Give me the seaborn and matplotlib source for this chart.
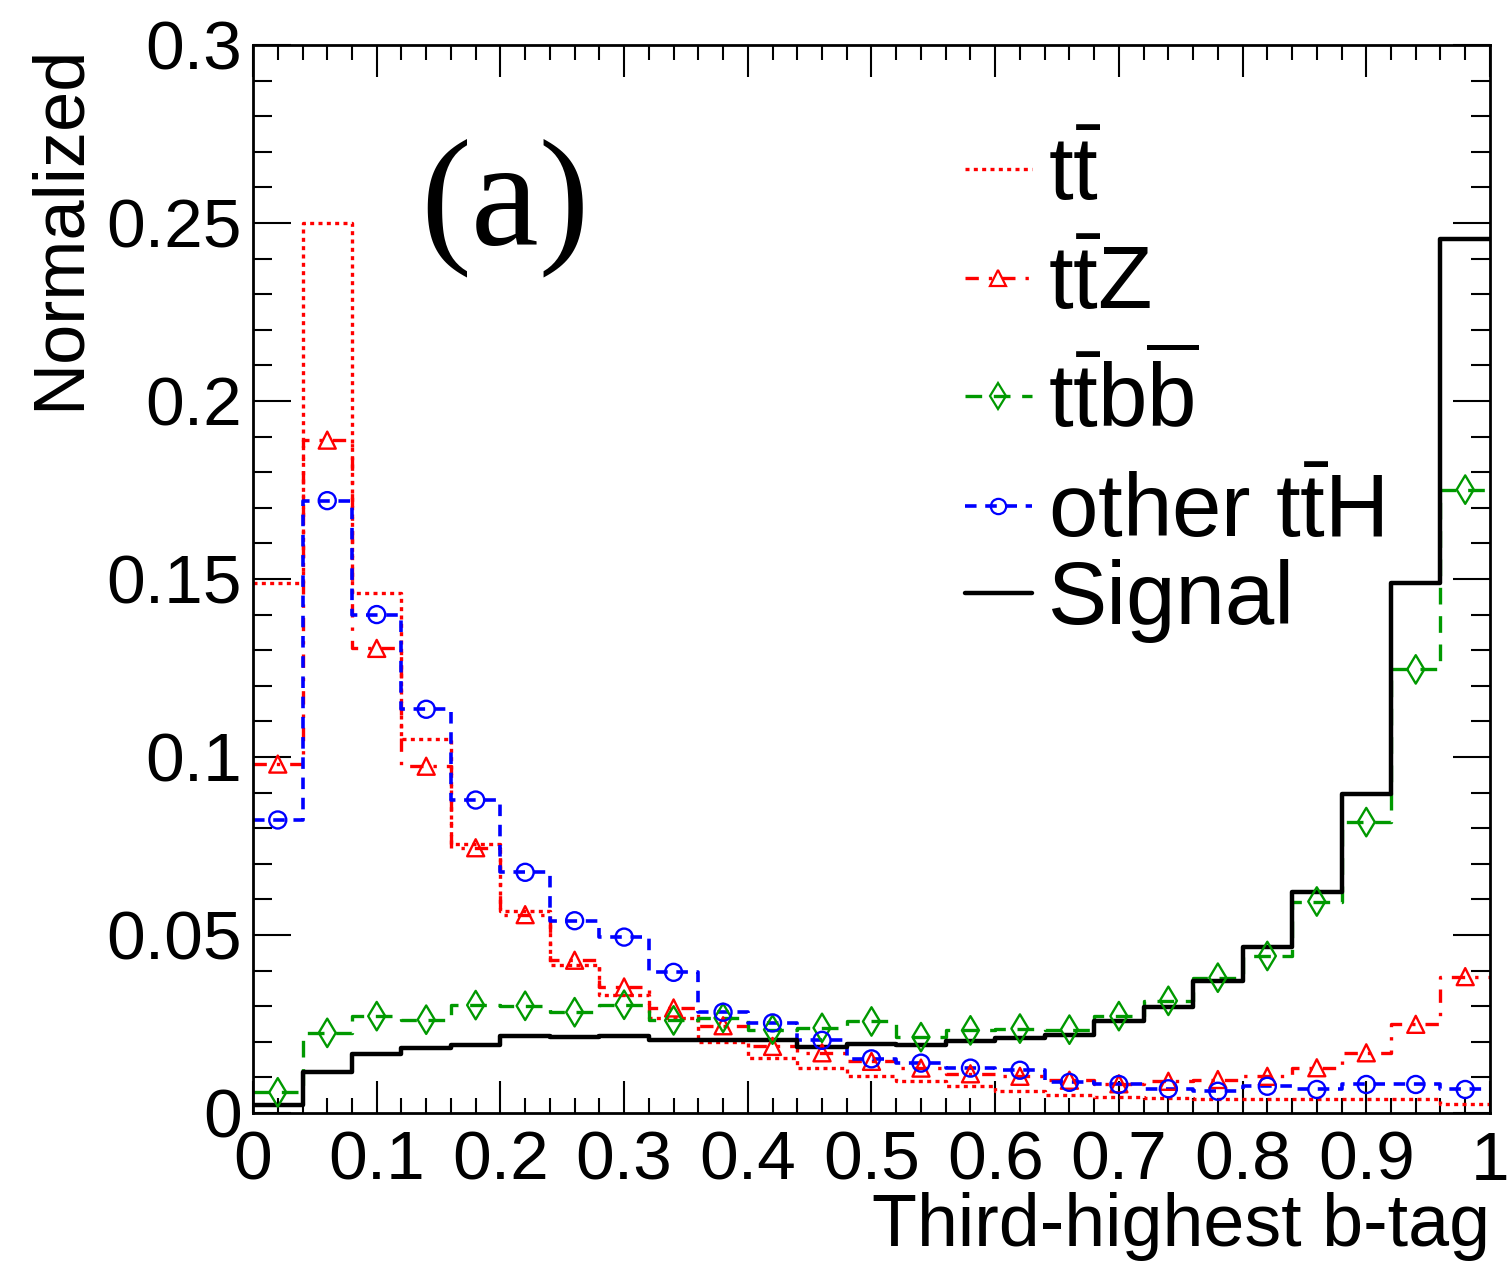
import numpy as np
import pandas as pd
import seaborn as sns
import matplotlib.pyplot as plt
from matplotlib.lines import Line2D
from matplotlib.ticker import MultipleLocator

# 25 bins of width 0.04 on [0, 1]
bin_edges = [round(i * 0.04, 2) for i in range(26)]
bin_centers = [round(i * 0.04 + 0.02, 2) for i in range(25)]

tt = [0.149, 0.250, 0.146, 0.105, 0.0755, 0.0566, 0.0417, 0.0332, 0.0267, 0.0199,
      0.0154, 0.0126, 0.0103, 0.0089, 0.0075, 0.0061, 0.0051, 0.0045, 0.0042, 0.0039,
      0.0039, 0.0039, 0.0039, 0.0039, 0.0026]
ttz = [0.098, 0.189, 0.1305, 0.0974, 0.0745, 0.0557, 0.0429, 0.0354, 0.0295, 0.0245,
       0.0187, 0.0169, 0.0145, 0.0126, 0.0110, 0.0103, 0.0092, 0.0082, 0.0089, 0.0094,
       0.0103, 0.0127, 0.0169, 0.0249, 0.0383]
ttbb = [0.0058, 0.0225, 0.0272, 0.0262, 0.0303, 0.0301, 0.0283, 0.0304, 0.0260, 0.0267,
        0.0234, 0.0239, 0.0257, 0.0213, 0.0232, 0.0237, 0.0234, 0.0272, 0.0315, 0.0380,
        0.0441, 0.0594, 0.0817, 0.1246, 0.1751]
other_tth = [0.0823, 0.172, 0.140, 0.1134, 0.0879, 0.0676, 0.0540, 0.0494, 0.0395, 0.0283,
             0.0253, 0.0204, 0.0152, 0.0140, 0.0126, 0.0120, 0.0086, 0.0080, 0.0068, 0.0061,
             0.0075, 0.0066, 0.0080, 0.0080, 0.0066]
signal = [0.0022, 0.0115, 0.0167, 0.0182, 0.0192, 0.0217, 0.0213, 0.0217, 0.0204, 0.0204,
          0.0206, 0.0185, 0.0194, 0.0192, 0.0201, 0.0211, 0.0220, 0.0258, 0.0299, 0.0371,
          0.0465, 0.0622, 0.0896, 0.1489, 0.2454]

sample_names = ["tt", "ttZ", "ttbb", "other ttH", "Signal"]
legend_labels = [r"$\mathrm{t\bar{t}}$", r"$\mathrm{t\bar{t}Z}$",
                 r"$\mathrm{t\bar{t}b\overline{b}}$", r"other $\mathrm{t\bar{t}}$H", "Signal"]
xtick_vals = [0, 0.1, 0.2, 0.3, 0.4, 0.5, 0.6, 0.7, 0.8, 0.9, 1.0]
xtick_labels = ["0", "0.1", "0.2", "0.3", "0.4", "0.5", "0.6", "0.7", "0.8", "0.9", "1"]
ytick_vals = [0, 0.05, 0.1, 0.15, 0.2, 0.25, 0.3]
ytick_labels = ["0", "0.05", "0.1", "0.15", "0.2", "0.25", "0.3"]

df = pd.DataFrame({
    "sample": np.repeat(sample_names, len(bin_centers)),
    "center": np.tile(bin_centers, len(sample_names)),
    "value": np.concatenate([tt, ttz, ttbb, other_tth, signal]),
})

styles = {
    "tt": dict(color="#ff0000", ls=(0, (1.2, 1.3)), lw=2.4, marker=None),
    "ttZ": dict(color="#ff0000", ls=(0, (4, 3, 1, 3)), lw=2.4, marker="^"),
    "ttbb": dict(color="#009900", ls=(0, (5, 3.5)), lw=2.4, marker="d"),
    "other ttH": dict(color="#0000ff", ls=(0, (3.2, 2.4)), lw=2.6, marker="o"),
    "Signal": dict(color="black", ls="-", lw=3.2, marker=None),
}
marker_sizes = {"^": 150, "d": 210, "o": 150}

sns.set_style("ticks")
plt.rcParams["font.family"] = ["Liberation Sans", "DejaVu Sans"]
plt.rcParams["mathtext.fontset"] = "custom"
plt.rcParams["mathtext.rm"] = "Liberation Sans"
plt.rcParams["mathtext.it"] = "Liberation Sans:italic"
plt.rcParams["mathtext.bf"] = "Liberation Sans:bold"
for key in ["text.color", "axes.labelcolor", "xtick.color", "ytick.color", "axes.edgecolor"]:
    plt.rcParams[key] = "black"

fig = plt.figure(figsize=(15.07, 12.74), dpi=100)
ax = fig.add_axes([0.1679, 0.1264, 0.8208, 0.8383])

handles = []
for name, label in zip(sample_names, legend_labels):
    st = styles[name]
    sub = df[df["sample"] == name]
    sns.histplot(data=sub, x="center", weights="value", bins=bin_edges, element="step",
                 fill=False, color=st["color"], linestyle=st["ls"], linewidth=st["lw"], ax=ax)
    if st["marker"] is not None:
        sns.scatterplot(data=sub, x="center", y="value", marker=st["marker"],
                        s=marker_sizes[st["marker"]], facecolors="none",
                        edgecolor=st["color"], linewidth=1.7, zorder=4, legend=False, ax=ax)
    handles.append(Line2D([0], [0], color=st["color"], ls=st["ls"], lw=st["lw"],
                          marker=st["marker"], mfc="none", mec=st["color"], mew=1.6,
                          ms=11 if st["marker"] != "d" else 13))

ax.set_xlim(0, 1)
ax.set_ylim(0, 0.3)
ax.set_xticks(xtick_vals, labels=xtick_labels)
ax.set_yticks(ytick_vals, labels=ytick_labels)
ax.xaxis.set_minor_locator(MultipleLocator(0.02))
ax.yaxis.set_minor_locator(MultipleLocator(0.01))
ax.tick_params(which="both", direction="in", top=True, right=True, width=1.5, labelsize=50)
ax.tick_params(axis="x", which="major", length=23, pad=12)
ax.tick_params(axis="x", which="minor", length=11)
ax.tick_params(axis="y", which="major", length=27, pad=8)
ax.tick_params(axis="y", which="minor", length=14)
for sp in ax.spines.values():
    sp.set_linewidth(2)

ax.set_ylabel("Normalized", fontsize=52, loc="top")
ax.yaxis.set_label_coords(-0.129, 1.0)
ax.set_xlabel("Third-highest b-tag", fontsize=53, loc="right")
ax.xaxis.set_label_coords(1.0, -0.074)

ax.text(0.2037, 0.847, "(a)", family="Liberation Serif", fontsize=110,
        ha="center", va="center", transform=ax.transAxes)

leg_kw = dict(loc="upper left", frameon=False, fontsize=64, borderpad=0, borderaxespad=0,
              handlelength=0.75, handletextpad=0.18)
leg1 = ax.legend(handles[:4], legend_labels[:4], bbox_to_anchor=(0.5756, 0.916),
                 labelspacing=0.29, **leg_kw)
ax.add_artist(leg1)
ax.legend(handles[4:], legend_labels[4:], bbox_to_anchor=(0.5756, 0.519), **leg_kw)

fig.savefig("out.png", dpi=100)
